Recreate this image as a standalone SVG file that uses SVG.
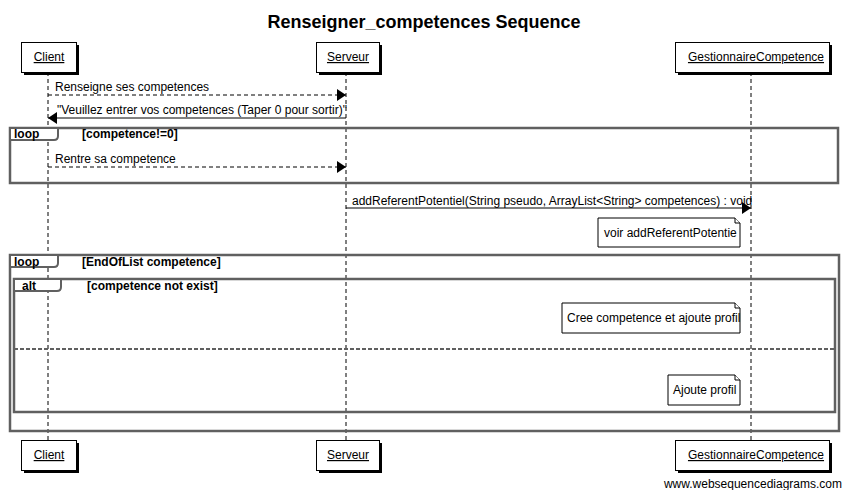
<svg xmlns="http://www.w3.org/2000/svg" width="848" height="490" viewBox="0 0 848 490">
<style>
text{font-family:"Liberation Sans",Arial,sans-serif;fill:#000}
.t{font-size:18px;font-weight:bold}
.p{font-size:12px;text-decoration:underline}
.m{font-size:12px}
.b{font-size:12px;font-weight:bold}
.box{fill:#fff;stroke:#000;stroke-width:1}
.sh{fill:#000}
.life{stroke:#000;stroke-width:1;stroke-dasharray:4,3;fill:none}
.msg{stroke:#000;stroke-width:1;fill:none}
.dash{stroke-dasharray:4,3}
.frame{fill:none;stroke:#606060;stroke-width:2.5}
.tab{fill:#fff;stroke:#606060;stroke-width:2}
.note{fill:#fff;stroke:#000;stroke-width:1}
</style>
<defs>
<marker id="ah" markerWidth="10" markerHeight="12" refX="9" refY="6" orient="auto" markerUnits="userSpaceOnUse">
<path d="M0,0 L9,6 L0,12 z" fill="#000"/>
</marker>
</defs>
<rect width="848" height="490" fill="#fff"/>
<text class="t" x="424" y="28" text-anchor="middle">Renseigner_competences Sequence</text>

<g id="lifelines">
<line class="life" x1="48" y1="72" x2="48" y2="440"/>
<line class="life" x1="346" y1="72" x2="346" y2="440"/>
<line class="life" x1="751" y1="72" x2="751" y2="440"/>
</g>

<g id="frames">
<rect class="frame" x="10" y="128" width="828" height="55"/>
<path class="tab" d="M10,128 H58 V136 Q58,140 54,140 H10 Z"/>
<text class="b" x="14" y="138">loop</text>
<text class="b" x="82" y="138">[competence!=0]</text>

<rect class="frame" x="10" y="255" width="829" height="176"/>
<path class="tab" d="M10,255 H58 V263 Q58,267 54,267 H10 Z"/>
<text class="b" x="14" y="266">loop</text>
<text class="b" x="82" y="266">[EndOfList competence]</text>

<rect class="frame" x="14" y="279" width="821" height="133"/>
<path class="tab" d="M14,279 H61 V287 Q61,291 57,291 H14 Z"/>
<text class="b" x="22" y="290">alt</text>
<text class="b" x="87" y="290">[competence not exist]</text>
<line x1="14" y1="349" x2="835" y2="349" stroke="#606060" stroke-width="2" stroke-dasharray="4,2"/>
</g>

<g id="connectors">
<line class="msg dash" x1="48" y1="95" x2="346" y2="95" marker-end="url(#ah)"/>
<text class="m" x="55" y="91">Renseigne ses competences</text>
<line class="msg" x1="346" y1="118" x2="48" y2="118" marker-end="url(#ah)"/>
<text class="m" x="57" y="114">"Veuillez entrer vos competences (Taper 0 pour sortir)"</text>
<line class="msg dash" x1="48" y1="167" x2="346" y2="167" marker-end="url(#ah)"/>
<text class="m" x="55" y="163">Rentre sa competence</text>
<line class="msg" x1="346" y1="208" x2="751" y2="208" marker-end="url(#ah)"/>
<text class="m" x="352" y="205">addReferentPotentiel(String pseudo, ArrayList&lt;String&gt; competences) : void</text>
</g>

<g id="note1">
<path class="note" d="M598,218 H735 L740,223 V247 H598 Z"/>
<path class="note" d="M735,218 V223 H740"/>
<text class="m" x="604" y="237">voir addReferentPotentie</text>
</g>
<g id="note2">
<path class="note" d="M562,303 H735 L740,308 V333 H562 Z"/>
<path class="note" d="M735,303 V308 H740"/>
<text class="m" x="567" y="322">Cree competence et ajoute profil</text>
</g>
<g id="note3">
<path class="note" d="M668,375 H735 L740,380 V405 H668 Z"/>
<path class="note" d="M735,375 V380 H740"/>
<text class="m" x="673" y="394">Ajoute profil</text>
</g>

<g id="client-top">
<rect class="sh" x="24" y="45" width="55" height="30"/>
<rect class="box" x="21.5" y="42.5" width="55" height="30"/>
<text class="p" x="49" y="61" text-anchor="middle">Client</text>
</g>
<g id="serveur-top">
<rect class="sh" x="319" y="45" width="63" height="30"/>
<rect class="box" x="316.5" y="42.5" width="63" height="30"/>
<text class="p" x="348" y="61" text-anchor="middle">Serveur</text>
</g>
<g id="gestionnaire-top">
<rect class="sh" x="678" y="45" width="154" height="30"/>
<rect class="box" x="675.5" y="42.5" width="154" height="30"/>
<text class="p" x="756" y="61" text-anchor="middle">GestionnaireCompetence</text>
</g>
<g id="client-bottom">
<rect class="sh" x="24" y="443" width="55" height="30"/>
<rect class="box" x="21.5" y="440.5" width="55" height="30"/>
<text class="p" x="49" y="459" text-anchor="middle">Client</text>
</g>
<g id="serveur-bottom">
<rect class="sh" x="319" y="443" width="63" height="30"/>
<rect class="box" x="316.5" y="440.5" width="63" height="30"/>
<text class="p" x="348" y="459" text-anchor="middle">Serveur</text>
</g>
<g id="gestionnaire-bottom">
<rect class="sh" x="678" y="443" width="154" height="30"/>
<rect class="box" x="675.5" y="440.5" width="154" height="30"/>
<text class="p" x="756" y="459" text-anchor="middle">GestionnaireCompetence</text>
</g>
<text class="m" x="842" y="488" text-anchor="end" style="font-size:12px">www.websequencediagrams.com</text>
</svg>
